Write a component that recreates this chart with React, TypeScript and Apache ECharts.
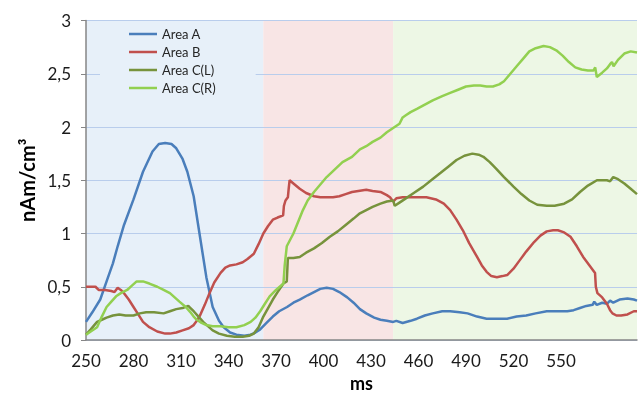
import React, { useEffect, useRef } from "react";
import * as echarts from "echarts";

const xTickLabels = [250, 280, 310, 340, 370, 400, 430, 460, 490, 520, 550];
const yTickLabels = ["0", "0,5", "1", "1,5", "2", "2,5", "3"];

const seriesNames = ["Area A", "Area B", "Area C(L)", "Area C(R)"];
const seriesColors = ["#4a7ebb", "#c0504d", "#77933c", "#92d050"];

const regions = [
  { from: 250, to: 362, color: "#e7f0f9" },
  { from: 362, to: 444, color: "#f8e5e5" },
  { from: 444, to: 598, color: "#edf7e5" },
];

const msA = [250,254,259,263,267,270,274,280,286,292,296,300,304,307,311,314,318,322,326,330,334,337,341,345,350,354,357,360,364,368,372,377,381,385,390,394,398,402,406,410,415,419,423,427,432,436,440,444,446,450,455,459,464,469,475,480,486,491,497,503,509,516,522,528,534,541,547,554,558,562,566,570,571,572.6,576,579,581,583,587,592,596,598];
const valA = [0.17,0.26,0.38,0.55,0.72,0.88,1.08,1.32,1.58,1.77,1.84,1.85,1.84,1.80,1.70,1.58,1.35,0.97,0.59,0.31,0.18,0.12,0.07,0.05,0.04,0.05,0.07,0.10,0.16,0.22,0.27,0.31,0.35,0.38,0.42,0.45,0.48,0.49,0.48,0.45,0.40,0.35,0.29,0.25,0.21,0.19,0.18,0.17,0.18,0.16,0.18,0.20,0.23,0.25,0.27,0.27,0.26,0.25,0.22,0.20,0.20,0.20,0.22,0.23,0.25,0.27,0.27,0.27,0.28,0.30,0.32,0.33,0.36,0.33,0.35,0.34,0.37,0.35,0.38,0.39,0.38,0.37];

const msB = [250,253,256,258,262,266,268,270,272,274,277,280,283,286,290,295,300,303,307,311,315,318,320,322,325,328,331,335,338,341,345,349,352,356,359,362,365,368,371,374.5,375,376,377.5,378,378.6,381,385,389,394,398,402,406,410,414,418,422,427,431,436,440,442,444,446,450,458,465,471,476,480,484,488,492,497,500,503,506,509.5,513,516,520,524,528,533,537,541,545,548,552,556,560,564,568,571.5,572,573,576,579,581,582.5,585,588,592,596,598];
const valB = [0.50,0.50,0.50,0.47,0.47,0.46,0.45,0.49,0.47,0.44,0.38,0.31,0.24,0.17,0.12,0.08,0.06,0.06,0.07,0.09,0.11,0.14,0.18,0.23,0.33,0.44,0.54,0.63,0.68,0.70,0.71,0.73,0.76,0.81,0.90,1.00,1.07,1.13,1.15,1.17,1.26,1.31,1.34,1.42,1.50,1.47,1.42,1.38,1.35,1.34,1.34,1.34,1.35,1.37,1.39,1.40,1.41,1.40,1.39,1.36,1.34,1.30,1.33,1.34,1.34,1.34,1.32,1.28,1.22,1.13,1.03,0.91,0.78,0.70,0.64,0.60,0.59,0.60,0.61,0.67,0.75,0.83,0.92,0.98,1.02,1.03,1.03,1.01,0.97,0.88,0.78,0.70,0.63,0.50,0.44,0.40,0.34,0.28,0.25,0.23,0.23,0.24,0.27,0.27];

const msCL = [250,253,257,260,263,267,271,275,280,284,288,293,299,303,307,311,314.6,316,318,321,324,327,330,334,339,344,349,353,356,359,362,365,368,371,374.7,376.8,377.5,381,385,389,394,399,404,409,414,419,423,427,431,436,440,444,445,448,452,457,463,468,474,479,484,489,494,498,501,505,509,514,520,525,530,535,541,546,552,557,562,567,572.7,576,579,581,583,586,590,594,598];
const valCL = [0.05,0.10,0.17,0.19,0.21,0.23,0.24,0.23,0.23,0.25,0.26,0.26,0.25,0.27,0.29,0.30,0.32,0.30,0.27,0.22,0.17,0.13,0.09,0.06,0.04,0.03,0.03,0.04,0.06,0.12,0.22,0.30,0.38,0.45,0.53,0.55,0.77,0.77,0.78,0.82,0.86,0.91,0.97,1.02,1.08,1.14,1.19,1.22,1.25,1.28,1.30,1.31,1.26,1.29,1.33,1.38,1.44,1.50,1.57,1.63,1.69,1.73,1.75,1.74,1.72,1.67,1.61,1.53,1.44,1.37,1.31,1.27,1.26,1.26,1.28,1.32,1.39,1.45,1.50,1.50,1.50,1.49,1.53,1.51,1.47,1.42,1.37];

const msCR = [250,253,257,260,263,266,269,272,276,279,282,286,290,295,299,303,306,309,313,316,318,320,323,326,330,335,340,345,350,354,357,360,363,366,370,374.7,375.5,376.8,381,384,387,390,394,398,402,407,412,418,423,427,431,436,440,444,448,450,452,455,459,464,469,475,480,485,490,495,499,503,507,511,514,518,522,526,530,534,539,543,547,551,555,559,563,567,570.5,571.6,572.6,576,579,581,582.2,583.2,586,590,594,598];
const valCR = [0.05,0.08,0.12,0.22,0.31,0.36,0.41,0.44,0.47,0.51,0.55,0.55,0.53,0.50,0.47,0.44,0.40,0.36,0.31,0.26,0.22,0.19,0.16,0.14,0.13,0.13,0.12,0.12,0.14,0.17,0.21,0.27,0.34,0.41,0.47,0.53,0.70,0.88,1.00,1.11,1.22,1.31,1.39,1.46,1.53,1.60,1.67,1.72,1.79,1.82,1.86,1.90,1.95,1.99,2.03,2.09,2.11,2.14,2.17,2.21,2.25,2.29,2.32,2.35,2.38,2.39,2.39,2.38,2.38,2.40,2.43,2.50,2.57,2.64,2.71,2.74,2.76,2.75,2.72,2.67,2.61,2.56,2.54,2.53,2.53,2.56,2.47,2.51,2.55,2.59,2.61,2.57,2.63,2.69,2.71,2.70];

const zip = (xs: number[], ys: number[]) => xs.map((x, i) => [x, ys[i]]);

const FONT = "Lato, 'Noto Sans', sans-serif";

export default function App() {
  const ref = useRef<HTMLDivElement>(null);
  useEffect(() => {
    if (!ref.current) return;
    const chart = echarts.init(ref.current, undefined, { renderer: "svg" });
    const datasets = [zip(msA, valA), zip(msB, valB), zip(msCL, valCL), zip(msCR, valCR)];
    const xMin = xTickLabels[0];
    const xMax = regions[regions.length - 1].to;
    chart.setOption({
      animation: false,
      textStyle: { fontFamily: FONT },
      grid: { left: 86, right: 6, top: 20.5, bottom: 53, containLabel: false, outerBoundsMode: "none" },
      legend: {
        data: seriesNames,
        orient: "vertical",
        left: 100,
        top: 21,
        padding: [4, 40, 8, 29],
        backgroundColor: regions[0].color,
        icon: "rect",
        itemWidth: 28,
        itemHeight: 2.5,
        itemGap: 0,
        textStyle: { fontSize: 13, color: "#262626", lineHeight: 18, fontFamily: FONT },
      },
      xAxis: {
        type: "value",
        min: xMin,
        max: xMax,
        interval: 30,
        name: "ms",
        nameLocation: "middle",
        nameGap: 31,
        nameTextStyle: { fontSize: 18, fontWeight: "bold", color: "#000", fontFamily: FONT },
        axisLine: { show: true, lineStyle: { color: "#868686", width: 1.5 } },
        axisTick: { show: false },
        splitLine: { show: false },
        axisLabel: {
          fontSize: 17,
          color: "#1a1a1a",
          margin: 12,
          formatter: (v: number) => (xTickLabels.includes(v) ? String(v) : ""),
          showMaxLabel: false,
        },
      },
      yAxis: {
        type: "value",
        min: 0,
        max: 3,
        interval: 0.5,
        name: "nAm/cm³",
        nameLocation: "middle",
        nameGap: 43,
        nameTextStyle: { fontSize: 20, fontWeight: "bold", color: "#000", fontFamily: FONT },
        axisLine: { show: true, lineStyle: { color: "#868686", width: 1.5 } },
        axisTick: { show: true, inside: false, length: 5, lineStyle: { color: "#868686" } },
        splitLine: { show: true, lineStyle: { color: "#b9cdec", width: 1.2 } },
        axisLabel: {
          fontSize: 17,
          color: "#1a1a1a",
          margin: 15,
          formatter: (v: number) => yTickLabels[Math.round(v * 2)] ?? "",
        },
      },
      series: datasets.map((d, i) => ({
        name: seriesNames[i],
        type: "line",
        data: d,
        showSymbol: false,
        symbol: "none",
        color: seriesColors[i],
        lineStyle: { color: seriesColors[i], width: 2.5 },
        z: 3 + i,
        ...(i === 0
          ? {
              markArea: {
                silent: true,
                z: -1,
                itemStyle: { opacity: 1 },
                data: regions.map((r) => [
                  { xAxis: r.from, itemStyle: { color: r.color } },
                  { xAxis: r.to },
                ]),
              },
            }
          : {}),
      })),
    });
    return () => chart.dispose();
  }, []);
  return (
    <div
      ref={ref}
      style={{ position: "fixed", left: 0, top: 0, width: 643, height: 393 }}
    />
  );
}
